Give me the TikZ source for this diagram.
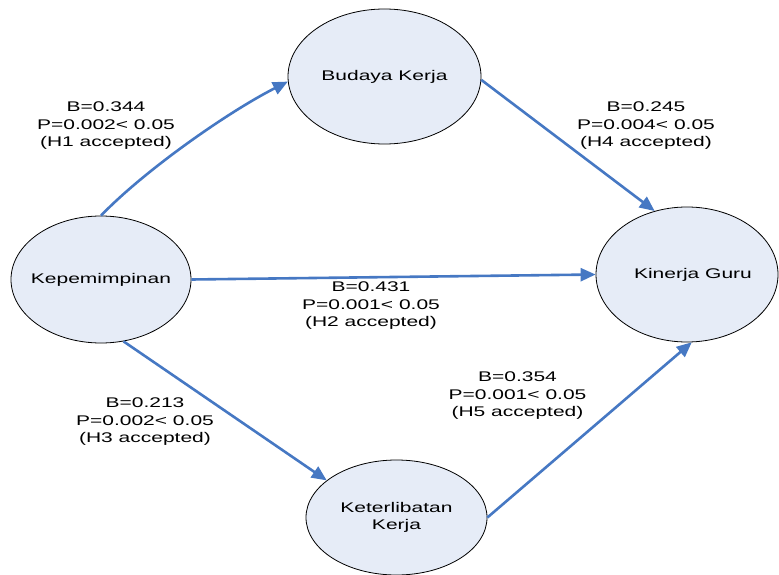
\documentclass[tikz,border=0pt]{standalone}
\usepackage{fontspec}
\setmainfont{Liberation Sans}[FakeStretch=1.5]
\usetikzlibrary{arrows.meta,shapes.geometric}
\definecolor{nodefill}{RGB}{230,236,247}
\definecolor{arrowblue}{RGB}{70,120,195}
\tikzset{
  construct/.style={ellipse, draw=black, line width=0.8pt, fill=nodefill, inner sep=0pt,
    align=center, font=\fontsize{14}{17.5}\selectfont},
  hyp/.style={draw=arrowblue, line width=2.6pt, -{Triangle[length=15pt,width=13pt]}},
  coef/.style={align=center, font=\fontsize{14}{17.5}\selectfont, inner sep=0pt}
}
\begin{document}
\begin{tikzpicture}[x=1pt,y=-1pt]
\useasboundingbox (0,0) rectangle (779,575);
\node[construct, minimum width=180pt, minimum height=127pt] (kep) at (101,279.5) {\makebox[0pt]{Kepemimpinan}};
\node[construct, minimum width=193pt, minimum height=135pt] (bud) at (384.5,76.5) {\makebox[0pt]{Budaya Kerja}};
\node[construct, minimum width=182pt, minimum height=135pt] (kin) at (687,274.5) {\makebox[0pt]{\hspace*{12pt}Kinerja Guru}};
\node[construct, minimum width=181pt, minimum height=115pt] (ket) at (396.5,517.5) {Keterlibatan\\Kerja};

\draw[hyp] (kep.north) .. controls (145,170) and (228,112) .. (bud.183);
\draw[hyp] (bud.-2) -- (kin.117);
\draw[hyp] (kep.east) -- (kin.west);
\draw[hyp] (kep.-70) -- (ket.152);
\draw[hyp] (ket.east) -- (kin.-86);

\node[coef] (l1) at (106,126) {B=0.344\\P=0.002< 0.05\\(H1 accepted)};
\node[coef] (l4) at (646,126) {B=0.245\\P=0.004< 0.05\\(H4 accepted)};
\node[coef] (l2) at (371,306) {B=0.431\\P=0.001< 0.05\\(H2 accepted)};
\node[coef] (l3) at (145,422) {B=0.213\\P=0.002< 0.05\\(H3 accepted)};
\node[coef] (l5) at (517.5,396) {B=0.354\\P=0.001< 0.05\\(H5 accepted)};
\end{tikzpicture}
\end{document}
